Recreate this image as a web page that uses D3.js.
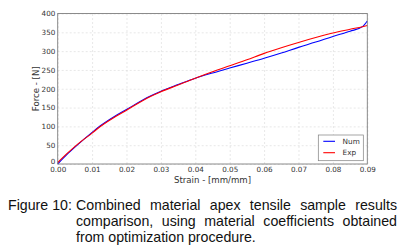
<!DOCTYPE html>
<html>
<head>
<meta charset="utf-8">
<script src="https://cdn.jsdelivr.net/npm/d3@7"></script>
<style>
  body { margin: 0; background: #fff; }
  svg { display: block; }
</style>
</head>
<body>
<div id="chart"></div>
<script>
// strain values [mm/mm]
const strain = [0, 0.003, 0.006, 0.01, 0.0123, 0.0166, 0.02, 0.0268, 0.0297, 0.035, 0.04, 0.045, 0.05, 0.055, 0.06, 0.065, 0.07, 0.075, 0.08, 0.085, 0.0886, 0.09];
// force [N]
const numForce = [0, 28, 53, 84, 101, 127, 145, 180, 192, 211, 228, 242, 255, 268, 281, 295, 310, 324, 339, 353, 365, 380];
const expForce = [4, 30, 54, 82, 99, 125, 143, 179, 191, 210, 228, 245, 261, 277, 294, 309, 323, 336, 348, 358, 365, 368];
const xTicks = [0, 0.01, 0.02, 0.03, 0.04, 0.05, 0.06, 0.07, 0.08, 0.09];
const yTicks = [0, 50, 100, 150, 200, 250, 300, 350, 400];
const seriesNames = ['Num', 'Exp'];
const seriesColors = ['#0000ff', '#ff0000'];
const captionLabel = 'Figure 10:';
const captionLines = [
  'Combined material apex tensile sample results',
  'comparison, using material coefficients obtained',
  'from optimization procedure.'
];

const width = 404, height = 252;
const mLeft = 57.7, mRight = 367.3, mTop = 13.5, mBottom = 164;

const svg = d3.select('#chart').append('svg')
  .attr('width', width)
  .attr('height', height);

const x = d3.scaleLinear().domain([0, 0.09]).range([mLeft, mRight]);
const y = d3.scaleLinear().domain([0, 400]).range([mBottom, mTop]);

// grid
svg.append('g')
  .attr('transform', `translate(0,${mBottom})`)
  .call(d3.axisBottom(x).tickValues(xTicks).tickSize(-(mBottom - mTop)).tickFormat(''))
  .call(g => g.select('.domain').remove())
  .call(g => g.selectAll('line').attr('stroke', '#d8d8d8').attr('stroke-dasharray', '2,2').attr('stroke-width', 0.6));
svg.append('g')
  .attr('transform', `translate(${mLeft},0)`)
  .call(d3.axisLeft(y).tickValues(yTicks).tickSize(-(mRight - mLeft)).tickFormat(''))
  .call(g => g.select('.domain').remove())
  .call(g => g.selectAll('line').attr('stroke', '#d8d8d8').attr('stroke-dasharray', '2,2').attr('stroke-width', 0.6));

// curves
const series = [numForce, expForce];
const line = d3.line()
  .x((d, i) => x(strain[i]))
  .y(d => y(d))
  .curve(d3.curveMonotoneX);
series.forEach((s, k) => {
  svg.append('path')
    .datum(s)
    .attr('fill', 'none')
    .attr('stroke', seriesColors[k])
    .attr('stroke-width', 1.1)
    .attr('d', line);
});

// frame
svg.append('rect')
  .attr('x', mLeft).attr('y', mTop)
  .attr('width', mRight - mLeft).attr('height', mBottom - mTop)
  .attr('fill', 'none')
  .attr('stroke', '#7f7f7f')
  .attr('stroke-width', 0.9);

// tick labels
const tickFont = 'DejaVu Sans, sans-serif';
svg.append('g')
  .attr('transform', `translate(0,${mBottom})`)
  .call(d3.axisBottom(x).tickValues(xTicks).tickSize(0).tickPadding(2.6).tickFormat(d3.format('.2f')))
  .call(g => g.select('.domain').remove())
  .call(g => g.selectAll('text').attr('font-family', tickFont).attr('font-size', 7.2).attr('fill', '#333'));
svg.append('g')
  .attr('transform', `translate(${mLeft},0)`)
  .call(d3.axisLeft(y).tickValues(yTicks).tickSize(0).tickPadding(2.4))
  .call(g => g.select('.domain').remove())
  .call(g => g.selectAll('text').attr('font-family', tickFont).attr('font-size', 7.2).attr('fill', '#333'))
  .call(g => g.selectAll('.tick').filter(d => d === 0).select('text').attr('dy', '-0.05em'));

// axis titles
svg.append('text')
  .attr('x', (mLeft + mRight) / 2).attr('y', 182.6)
  .attr('text-anchor', 'middle')
  .attr('font-family', tickFont).attr('font-size', 8.6).attr('fill', '#333')
  .text('Strain - [mm/mm]');
svg.append('text')
  .attr('transform', `translate(39,${(mTop + mBottom) / 2}) rotate(-90)`)
  .attr('text-anchor', 'middle')
  .attr('font-family', tickFont).attr('font-size', 8.6).attr('fill', '#333')
  .text('Force - [N]');

// legend
const lg = svg.append('g').attr('transform', 'translate(318.3,135)');
lg.append('rect')
  .attr('width', 45).attr('height', 25.7)
  .attr('fill', '#fff').attr('stroke', '#7f7f7f').attr('stroke-width', 0.7);
seriesNames.forEach((n, k) => {
  const ly = 6.3 + k * 11.4;
  lg.append('line')
    .attr('x1', 5).attr('x2', 16.7).attr('y1', ly).attr('y2', ly)
    .attr('stroke', seriesColors[k]).attr('stroke-width', 1.1);
  lg.append('text')
    .attr('x', 24.3).attr('y', ly + 2.6)
    .attr('font-family', tickFont).attr('font-size', 7.3).attr('fill', '#333')
    .text(n);
});

// caption, justified like the source document
const capFont = 'Liberation Sans, Arial, sans-serif';
const capSize = 14.2;
const capLeft = 76, capRight = 397, capY0 = 210, capStep = 16.2;
svg.append('text')
  .attr('x', 8).attr('y', capY0)
  .attr('font-family', capFont).attr('font-size', capSize).attr('fill', '#111')
  .text(captionLabel);
captionLines.forEach((ln, i) => {
  const words = ln.split(' ');
  const ly = capY0 + i * capStep;
  const last = i === captionLines.length - 1;
  const g = svg.append('g');
  const nodes = words.map(w => g.append('text')
    .attr('y', ly)
    .attr('font-family', capFont).attr('font-size', capSize).attr('fill', '#111')
    .text(w));
  const widths = nodes.map(t => t.node().getComputedTextLength());
  const total = d3.sum(widths);
  const gap = last ? capSize * 0.278 : (capRight - capLeft - total) / (words.length - 1);
  let cx = capLeft;
  nodes.forEach((t, k) => {
    t.attr('x', cx);
    cx += widths[k] + gap;
  });
});
</script>
</body>
</html>
